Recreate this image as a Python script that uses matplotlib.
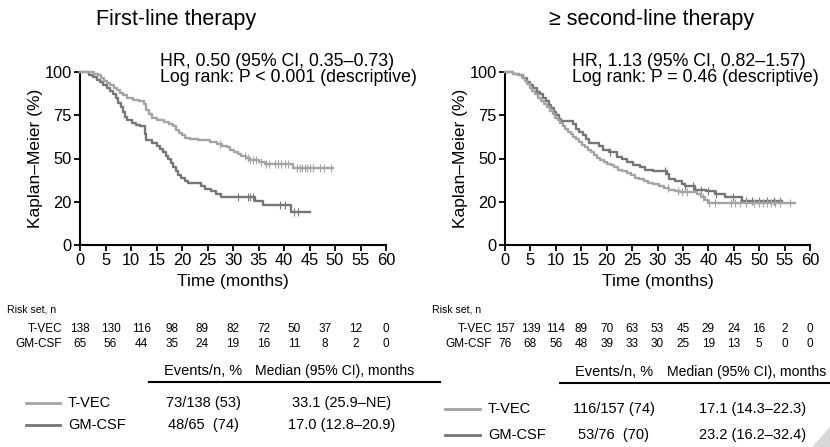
import matplotlib
matplotlib.use("Agg")
import matplotlib.pyplot as plt
from matplotlib.lines import Line2D
from matplotlib.patches import Polygon

plt.rcParams['font.family'] = ['Liberation Sans', 'DejaVu Sans']

W, H = 830, 447

# ---------------- data ----------------
titles = ["First-line therapy", "\u2265 second-line therapy"]
hr_line1 = ["HR, 0.50 (95% CI, 0.35\u20130.73)", "HR, 1.13 (95% CI, 0.82\u20131.57)"]
hr_line2 = ["Log rank: P < 0.001 (descriptive)", "Log rank: P = 0.46 (descriptive)"]
series_names = ["T-VEC", "GM-CSF"]
ytick_pos = [0, 25, 50, 75, 100]
ytick_labels = ["0", "20", "50", "75", "100"]
xticks = list(range(0, 61, 5))

# Panel 1 (first-line)
p1_tvec_t = [0, 2.8, 3.5, 4.1, 4.7, 5.3, 5.9, 6.6, 7.3, 7.9, 8.5, 9.2, 10.3, 11.6, 12.6, 13.0,
             13.5, 14.2, 15.0, 16.4, 17.4, 18.2, 18.8, 19.4, 20.0, 20.6, 21.6, 23.2, 25.5,
             26.8, 27.8, 28.8, 29.5, 30.2, 31.0, 31.6, 32.5, 33.3, 35.0, 36.3, 41.8, 49.7]
p1_tvec_s = [100, 99, 98, 96.5, 95, 93.5, 92.5, 91, 89.5, 88, 86.5, 85, 84, 83, 81.5, 78,
             75.5, 73.5, 72, 71, 70, 68.5, 66.5, 65, 63.5, 62, 61, 60.5, 59.5,
             58.5, 57.5, 56.5, 55, 54, 52.5, 51.5, 50.5, 49, 48, 47, 44.5, 44.5]
p1_tvec_cens = [27.5, 32.4, 32.9, 33.4, 34.0, 34.6, 35.5, 36.4, 37.0, 38.3, 38.9, 39.5, 40.2,
                40.8, 42.6, 43.1, 43.6, 44.1, 44.6, 45.1, 45.7, 47.0, 47.8, 49.3]

p1_gm_t = [0, 1.8, 2.6, 3.3, 4.0, 4.6, 5.3, 5.9, 6.4, 7.0, 7.5, 8.0, 8.5, 8.9, 9.3, 10.1, 11.0,
           11.8, 12.7, 13.0, 14.2, 15.0, 15.6, 16.2, 16.8, 17.3, 17.8, 18.3, 18.8, 19.3, 19.8,
           20.5, 21.2, 23.8, 24.6, 25.6, 26.6, 27.6, 34.4, 35.9, 41.4, 45.1]
p1_gm_s = [100, 98.5, 97, 95.5, 94, 92.5, 91, 89, 87.5, 85, 82, 79.5, 77, 74, 72, 70.5, 69.5,
           68.5, 64, 60.5, 59, 57.5, 55.5, 53.5, 51.5, 50, 47.5, 45, 43, 40.5, 38.7,
           37, 35.8, 34, 32.5, 31, 29.5, 27.5, 25.5, 23, 19.2, 19.2]
p1_gm_cens = [31.0, 32.9, 33.4, 33.9, 39.2, 40.2, 42.0, 42.8]

# Panel 2 (>= second-line)
p2_tvec_t = [0, 1.5, 2.5, 3.3, 3.9, 4.4, 4.9, 5.4, 5.9, 6.5, 7.1, 7.7, 8.3, 8.9, 9.4, 9.9, 10.4,
             10.9, 11.4, 11.9, 12.4, 12.9, 13.4, 13.9, 14.5, 15.1, 15.7, 16.3, 16.9, 17.5, 18.1,
             18.7, 19.4, 20.1, 20.8, 21.5, 22.3, 23.1, 24.0, 24.8, 25.6, 26.4, 27.3, 28.2, 29.2,
             30.2, 31.2, 32.2, 33.4, 34.5, 37.8, 38.6, 39.3, 40.0, 41.3, 57.0]
p2_tvec_s = [100, 99, 98, 96.5, 95, 93, 91, 89, 87, 85, 83.5, 81.5, 79.5, 77.5, 75.5, 73.5, 72,
             70.5, 69, 67, 65.5, 64, 62.5, 61, 59.5, 58, 56.5, 55, 53.5, 52, 50.5,
             49, 48, 47, 46, 45, 43.5, 42.5, 41.5, 40.5, 39, 38, 37, 36, 35,
             34, 33, 32, 31, 30.5, 29.5, 28, 26, 24.5, 24, 24]
p2_tvec_cens = [32.1, 34.0, 34.8, 35.8, 39.0, 40.2, 41.3, 44.5, 45.3, 46.2, 47.5, 49.0, 50.0,
                50.8, 51.5, 52.3, 53.2, 54.0, 56.0]

p2_gm_t = [0, 1.5, 2.8, 3.6, 4.3, 5.0, 5.6, 6.2, 6.8, 7.4, 8.0, 8.6, 9.1, 9.6, 10.1, 10.6, 11.1,
           13.3, 13.9, 14.5, 15.3, 16.0, 16.6, 18.5, 19.3, 20.5, 22.0, 23.0, 24.0, 25.2, 26.6,
           27.5, 29.2, 31.8, 32.3, 33.5, 34.8, 35.5, 37.4, 39.5, 41.3, 43.3, 46.6, 54.4]
p2_gm_s = [100, 99, 98, 96.5, 94.5, 92.5, 90.5, 88.5, 87, 85, 83, 81, 79, 77, 75, 73, 71.5,
           70, 67, 65.5, 63.5, 61, 59, 57.5, 55, 53.5, 51, 49.5, 48, 46.5, 45,
           43.5, 42.5, 41, 38, 37, 35, 34, 32, 31, 29.5, 28, 25.5, 25.5]
p2_gm_cens = [20.6, 31.5, 35.5, 37.0, 38.6, 40.0, 41.6, 44.8, 47.5, 48.5, 50.0, 51.5, 53.0, 54.0]

# Risk sets
p1_risk_times = list(range(0, 61, 6))
p1_risk_tvec = [138, 130, 116, 98, 89, 82, 72, 50, 37, 12, 0]
p1_risk_gm = [65, 56, 44, 35, 24, 19, 16, 11, 8, 2, 0]
p2_risk_times = list(range(0, 61, 5))
p2_risk_tvec = [157, 139, 114, 89, 70, 63, 53, 45, 29, 24, 16, 2, 0]
p2_risk_gm = [76, 68, 56, 48, 39, 33, 30, 25, 19, 13, 5, 0, 0]

# Summary tables
p1_events = ["73/138 (53)", "48/65  (74)"]
p1_median = ["33.1 (25.9\u2013NE)", "17.0 (12.8\u201320.9)"]
p2_events = ["116/157 (74)", "53/76  (70)"]
p2_median = ["17.1 (14.3\u201322.3)", "23.2 (16.2\u201332.4)"]

# ---------------- styles ----------------
c_tvec = "#a4a4a4"
c_gm = "#767676"

fig = plt.figure(figsize=(W / 100, H / 100), dpi=100)

def fx(px):
    return px / W

def fy(py):
    return 1 - py / H

def make_axes(left_px, right_px):
    ax = fig.add_axes([fx(left_px), fy(245), (right_px - left_px) / W, (245 - 72) / H])
    ax.set_xlim(0, 60)
    ax.set_ylim(0, 100)
    for s in ["top", "right"]:
        ax.spines[s].set_visible(False)
    for s in ["left", "bottom"]:
        ax.spines[s].set_linewidth(1.5)
    ax.set_xticks(xticks)
    ax.set_yticks(ytick_pos)
    ax.set_yticklabels(ytick_labels)
    ax.tick_params(direction="out", length=4, width=1.3, labelsize=11.8, pad=2)
    ax.set_xlabel("Time (months)", fontsize=12.5, labelpad=4)
    ax.set_ylabel("Kaplan\u2013Meier (%)", fontsize=12.5, labelpad=1)
    return ax

def km(ax, t, s, cens, color):
    ax.step(t, s, where="post", color=color, lw=1.7, clip_on=False, zorder=3)
    cs = [s[max(i for i, tt in enumerate(t) if tt <= c)] for c in cens]
    ax.plot(cens, cs, linestyle="none", marker="|", markersize=5.5, mew=0.8,
            color=color, clip_on=False, zorder=3)

axes_px = [(80, 386), (505, 810)]
data = [
    ((p1_tvec_t, p1_tvec_s, p1_tvec_cens), (p1_gm_t, p1_gm_s, p1_gm_cens)),
    ((p2_tvec_t, p2_tvec_s, p2_tvec_cens), (p2_gm_t, p2_gm_s, p2_gm_cens)),
]
title_x = [176, 652]
hr_x = [160, 572]
for i, (l, r) in enumerate(axes_px):
    ax = make_axes(l, r)
    tv, gm = data[i]
    km(ax, *gm, c_gm)
    km(ax, *tv, c_tvec)
    fig.text(fx(title_x[i]), fy(19), titles[i], ha="center", va="center", fontsize=15.5)
    fig.text(fx(hr_x[i]), fy(62), hr_line1[i], ha="left", va="center", fontsize=12.8)
    fig.text(fx(hr_x[i]), fy(78), hr_line2[i], ha="left", va="center", fontsize=12.8)

    # risk table
    rt = [p1_risk_times, p2_risk_times][i]
    rtv = [p1_risk_tvec, p2_risk_tvec][i]
    rgm = [p1_risk_gm, p2_risk_gm][i]
    lab_x = [62, 492][i]
    fig.text(fx([7, 432][i]), fy(310), "Risk set, n", ha="left", va="center", fontsize=7.6)
    fig.text(fx(lab_x), fy(329), "T-VEC", ha="right", va="center", fontsize=8.5)
    fig.text(fx(lab_x), fy(344), "GM-CSF", ha="right", va="center", fontsize=8.5)
    trans = ax.get_xaxis_transform()
    for tt, a, b in zip(rt, rtv, rgm):
        ax.text(tt, (245 - 329) / 173, str(a), transform=trans, ha="center", va="center",
                fontsize=8.5, clip_on=False)
        ax.text(tt, (245 - 344) / 173, str(b), transform=trans, ha="center", va="center",
                fontsize=8.5, clip_on=False)

# summary tables
tables = [
    dict(hdr_y=371, line_y=382, line_x=(149, 440), ev_x=203, med_x=342, med_hdr_x=255,
         rows_y=(403, 425), seg=(26, 60), name_x=68, ev=p1_events, med=p1_median),
    dict(hdr_y=372, line_y=383, line_x=(560, 830), ev_x=614, med_x=753, med_hdr_x=667,
         rows_y=(409, 435), seg=(445, 480), name_x=488, ev=p2_events, med=p2_median),
]
for tb in tables:
    fig.text(fx(tb["ev_x"]), fy(tb["hdr_y"]), "Events/n, %", ha="center", va="center", fontsize=10.5)
    fig.text(fx(tb["med_hdr_x"]), fy(tb["hdr_y"]), "Median (95% CI), months", ha="left",
             va="center", fontsize=10.1)
    fig.add_artist(Line2D([fx(tb["line_x"][0]), fx(tb["line_x"][1])],
                          [fy(tb["line_y"])] * 2, color="black", lw=1.5,
                          transform=fig.transFigure))
    for j, col in enumerate([c_tvec, c_gm]):
        y = tb["rows_y"][j]
        fig.add_artist(Line2D([fx(tb["seg"][0]), fx(tb["seg"][1])], [fy(y)] * 2,
                              color=col, lw=2, transform=fig.transFigure))
        fig.text(fx(tb["name_x"]), fy(y), series_names[j], ha="left", va="center", fontsize=10.5)
        fig.text(fx(tb["ev_x"]), fy(y), tb["ev"][j], ha="center", va="center", fontsize=10.5)
        fig.text(fx(tb["med_x"]), fy(y), tb["med"][j], ha="center", va="center", fontsize=10.5)

# small page-curl corner at bottom right
fig.add_artist(Polygon([[fx(830), fy(427)], [fx(830), fy(447)], [fx(812), fy(447)]],
                       closed=True, facecolor="#d8d8d8", edgecolor="none",
                       transform=fig.transFigure))

fig.savefig("out.png", dpi=100)
